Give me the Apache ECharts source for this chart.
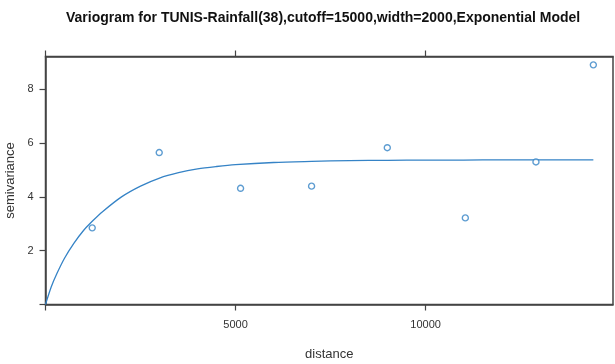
<!DOCTYPE html>
<html>
<head>
<meta charset="utf-8">
<script src="https://cdn.jsdelivr.net/npm/echarts@6/dist/echarts.min.js"></script>
<style>
html,body{margin:0;padding:0;background:#fff;}
#chart{width:615px;height:364px;}
</style>
</head>
<body>
<div id="chart"></div>
<script>
// Sample variogram (binned) points
var distances = [1229, 2992, 5132, 7000, 8992, 11045, 12903, 14413];
var semivariances = [2.85, 5.65, 4.32, 4.40, 5.83, 3.22, 5.30, 8.91];
// Fitted exponential model curve
var modelDistances = [0, 150, 300, 500, 750, 1000, 1250, 1500, 2000, 2500, 3000, 3500, 4000, 4500, 5000, 6000, 7000, 8000, 9000, 10000, 11000, 12000, 13000, 14413];
var modelValues = [0, 0.65, 1.15, 1.72, 2.28, 2.75, 3.12, 3.45, 4.0, 4.4, 4.7, 4.9, 5.04, 5.13, 5.2, 5.28, 5.32, 5.35, 5.36, 5.37, 5.37, 5.38, 5.38, 5.38];
// Axis ticks
var xTicks = [0, 5000, 10000];
var xTickLabels = [5000, 10000];
var yTicks = [0, 2, 4, 6, 8];
var yTickLabels = [2, 4, 6, 8];

var titleText = 'Variogram for TUNIS-Rainfall(38),cutoff=15000,width=2000,Exponential Model';
var blue = '#3583c6';
var axisCol = '#444';

var chart = echarts.init(document.getElementById('chart'));
var pts = distances.map(function (d, i) { return [d, semivariances[i]]; });
var curve = modelDistances.map(function (d, i) { return [d, modelValues[i]]; });

chart.setOption({
  animation: false,
  backgroundColor: '#fff',
  title: {
    text: titleText,
    left: 61,
    top: 6,
    textStyle: { fontFamily: 'Liberation Sans, Arial', fontWeight: 'bold', fontSize: 14, color: '#111' }
  },
  grid: { left: 45.5, right: 2, top: 56.5, bottom: 59.5, outerBoundsMode: 'none', containLabel: false, show: true, borderColor: axisCol, borderWidth: 1.5, backgroundColor: '#fff' },
  xAxis: [{
    type: 'value', position: 'bottom', min: 0, max: 14930,
    name: 'distance', nameLocation: 'middle', nameGap: 43,
    nameTextStyle: { fontFamily: 'Liberation Sans', fontSize: 13, color: '#333' },
    axisLine: { show: true, onZero: false, lineStyle: { color: axisCol, width: 1.5 } },
    axisTick: { show: true, length: 6, customValues: xTicks, lineStyle: { color: axisCol, width: 1.2 } },
    axisLabel: { customValues: xTickLabels, margin: 15, formatter: function (v) { return String(v); }, fontFamily: 'Liberation Sans', fontSize: 11, color: '#333' },
    splitLine: { show: false }
  }, {
    type: 'value', position: 'top', min: 0, max: 14930,
    axisLine: { show: true, onZero: false, lineStyle: { color: axisCol, width: 1.5 } },
    axisTick: { show: true, length: 6, customValues: xTicks, lineStyle: { color: axisCol, width: 1.2 } },
    axisLabel: { show: false },
    splitLine: { show: false }
  }],
  yAxis: {
    type: 'value', min: 0, max: 9.22,
    name: 'semivariance', nameLocation: 'middle', nameGap: 24, nameRotate: 90,
    nameTextStyle: { fontFamily: 'Liberation Sans', fontSize: 13, color: '#333' },
    axisLine: { show: true, onZero: false, lineStyle: { color: axisCol, width: 1.5 } },
    axisTick: { show: true, length: 6, customValues: yTicks, lineStyle: { color: axisCol, width: 1.2 } },
    axisLabel: { customValues: yTickLabels, margin: 12, fontFamily: 'Liberation Sans', fontSize: 11, color: '#333' },
    splitLine: { show: false }
  },
  series: [{
    type: 'line',
    data: curve,
    showSymbol: false,
    smooth: 0.3,
    lineStyle: { color: blue, width: 1.3 },
    z: 2
  }, {
    type: 'scatter',
    data: pts,
    symbol: 'circle',
    symbolSize: 6,
    itemStyle: { color: '#fff', borderColor: blue, borderWidth: 1.4 },
    z: 3
  }]
});
</script>
</body>
</html>
